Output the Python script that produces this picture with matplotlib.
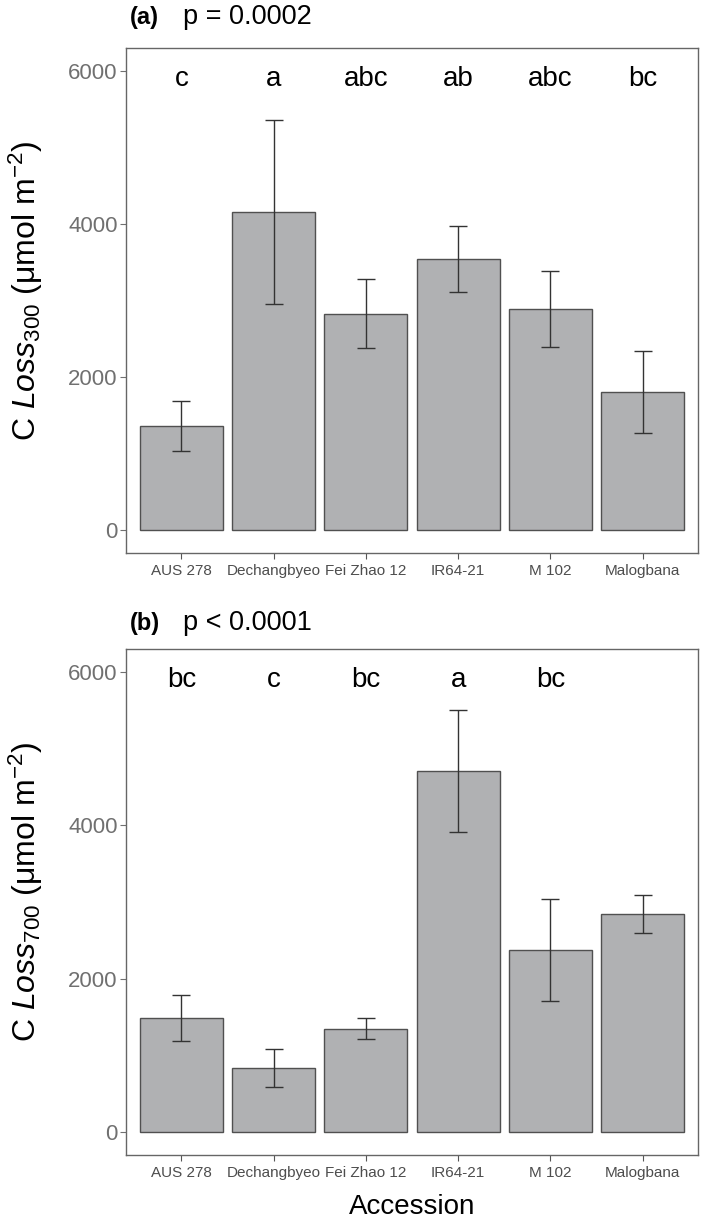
import matplotlib
matplotlib.use("Agg")
import matplotlib.pyplot as plt
from matplotlib import font_manager
import numpy as np

accessions = ["AUS 278", "Dechangbyeo", "Fei Zhao 12", "IR64-21", "M 102", "Malogbana"]

loss300_mean = [1360, 4160, 2830, 3540, 2887, 1805]
loss300_err = [327, 1203, 452, 432, 495, 541]
loss300_letters = ["c", "a", "abc", "ab", "abc", "bc"]

loss700_mean = [1489, 832, 1350, 4707, 2373, 2843]
loss700_err = [300, 248, 135, 796, 670, 248]
loss700_letters = ["bc", "c", "bc", "a", "bc", ""]

plt.rcParams['font.family'] = ['Liberation Sans', 'DejaVu Sans']
plt.rcParams['mathtext.fontset'] = 'custom'
plt.rcParams['mathtext.rm'] = 'Liberation Sans'
plt.rcParams['mathtext.it'] = 'Liberation Sans:italic'
plt.rcParams['mathtext.bf'] = 'Liberation Sans:bold'

names = {f.name for f in font_manager.fontManager.ttflist}
if 'Liberation Sans Narrow' in names:
    xtick_family, xtick_size = 'Liberation Sans Narrow', 13
else:
    xtick_family, xtick_size = 'Liberation Sans', 11

W, H = 703, 1227
fig = plt.figure(figsize=(W / 100, H / 100), dpi=100)

def px_axes(left, top, right, bottom):
    return fig.add_axes([left / W, 1 - bottom / H, (right - left) / W, (bottom - top) / H])

panels = [
    dict(box=(126, 48, 698, 553), mean=loss300_mean, err=loss300_err, letters=loss300_letters,
         ylabel=r'C $\mathit{Loss}_{\mathit{300}}$ (μmol m$^{-2}$)', title_tag='(a)', title_p='p = 0.0002',
         title_y=24),
    dict(box=(126, 649, 698, 1155), mean=loss700_mean, err=loss700_err, letters=loss700_letters,
         ylabel=r'C $\mathit{Loss}_{\mathit{700}}$ (μmol m$^{-2}$)', title_tag='(b)', title_p='p < 0.0001',
         title_y=630),
]

x = np.arange(1, len(accessions) + 1)
for i, p in enumerate(panels):
    ax = px_axes(*p['box'])
    ax.bar(x, p['mean'], width=0.9, color='#b0b1b3', edgecolor='#505050', linewidth=1.0, zorder=2)
    ax.errorbar(x, p['mean'], yerr=p['err'], fmt='none', ecolor='#333333', elinewidth=1.0,
                capsize=6.6, capthick=1.0, zorder=3)
    for xi, lab in zip(x, p['letters']):
        if lab:
            ax.text(xi, 5900, lab, ha='center', va='center', fontsize=20, color='black')
    ax.set_xlim(0.4, 6.6)
    ax.set_ylim(-300, 6300)
    ax.set_yticks([0, 2000, 4000, 6000])
    ax.set_xticks(x)
    ax.set_xticklabels(accessions, family=xtick_family, fontsize=xtick_size)
    ax.tick_params(axis='y', labelsize=16, colors='#707070', length=4, width=0.8, pad=2)
    ax.tick_params(axis='x', colors='#555555', length=4, width=0.8, pad=4)
    for lbl in ax.get_yticklabels():
        lbl.set_color('#707070')
    for lbl in ax.get_xticklabels():
        lbl.set_color('#4d4d4d')
    for s in ax.spines.values():
        s.set_color('#666666')
        s.set_linewidth(1.0)
    ax.set_ylabel(p['ylabel'], fontsize=23, color='black')
    ax.yaxis.set_label_coords(-0.142, 0.52)
    # panel title
    fig.text(130 / W, 1 - p['title_y'] / H, p['title_tag'], fontsize=17, fontweight='bold',
             va='baseline', ha='left')
    fig.text(183 / W, 1 - p['title_y'] / H, p['title_p'], fontsize=19.5, va='baseline', ha='left')
    if i == 1:
        ax.set_xlabel('Accession', fontsize=20, color='black', labelpad=10)

fig.savefig('out.png', dpi=100)
